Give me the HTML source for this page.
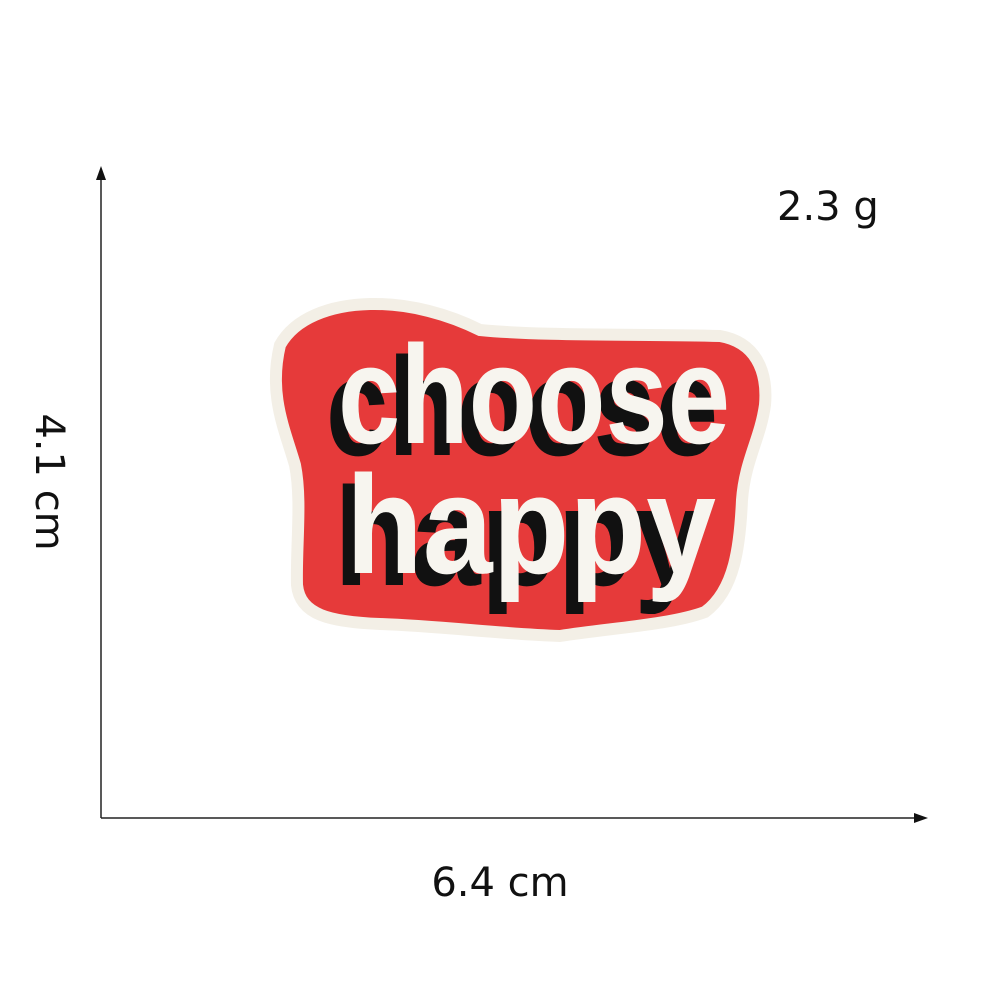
<!DOCTYPE html>
<html><head><style>
html,body{margin:0;padding:0;background:#fff;}
svg{display:block;}
.lbl{font-family:"DejaVu Sans","Liberation Sans",sans-serif;}
.patch{font-family:"Liberation Sans",sans-serif;}
</style></head><body>
<svg width="1000" height="1000" viewBox="0 0 1000 1000">
  <g>
    <line x1="101" y1="176" x2="101" y2="818" stroke="#222" stroke-width="1.5"/>
    <polygon points="101,166 96,180 106,180" fill="#111"/>
  </g>
  <g>
    <line x1="101" y1="818" x2="918" y2="818" stroke="#222" stroke-width="1.5"/>
    <polygon points="928,818 914,813 914,823" fill="#111"/>
  </g>
  <text class="lbl" x="777" y="220" font-size="40" fill="#111">2.3 g</text>
  <text class="lbl" transform="translate(36,482) rotate(90)" text-anchor="middle" font-size="40" fill="#111">4.1 cm</text>
  <text class="lbl" x="500" y="896" text-anchor="middle" font-size="40" fill="#111">6.4 cm</text>
  <g>
    <path d="M280,345 C295,318 330,305 370,304 C410,303 450,315 480,330 C540,336 640,334 720,336 C755,342 768,370 765,405 C760,440 745,460 742,500 C740,545 735,590 705,612 C670,625 610,628 560,636 C500,634 440,626 380,624 C330,622 300,615 297,585 C296,545 302,500 295,465 C285,430 268,395 280,345 Z" fill="#e63a3a" stroke="#f3efe6" stroke-width="12"/>
    <g class="patch" font-weight="bold" font-size="140">
      <text x="326" y="455" textLength="392" lengthAdjust="spacingAndGlyphs" fill="#111">choose</text>
      <text x="338" y="443" textLength="392" lengthAdjust="spacingAndGlyphs" fill="#f7f5ef">choose</text>
      <text x="334" y="585" textLength="370" lengthAdjust="spacingAndGlyphs" fill="#111">happy</text>
      <text x="346" y="573" textLength="370" lengthAdjust="spacingAndGlyphs" fill="#f7f5ef">happy</text>
    </g>
  </g>
</svg>
</body></html>
